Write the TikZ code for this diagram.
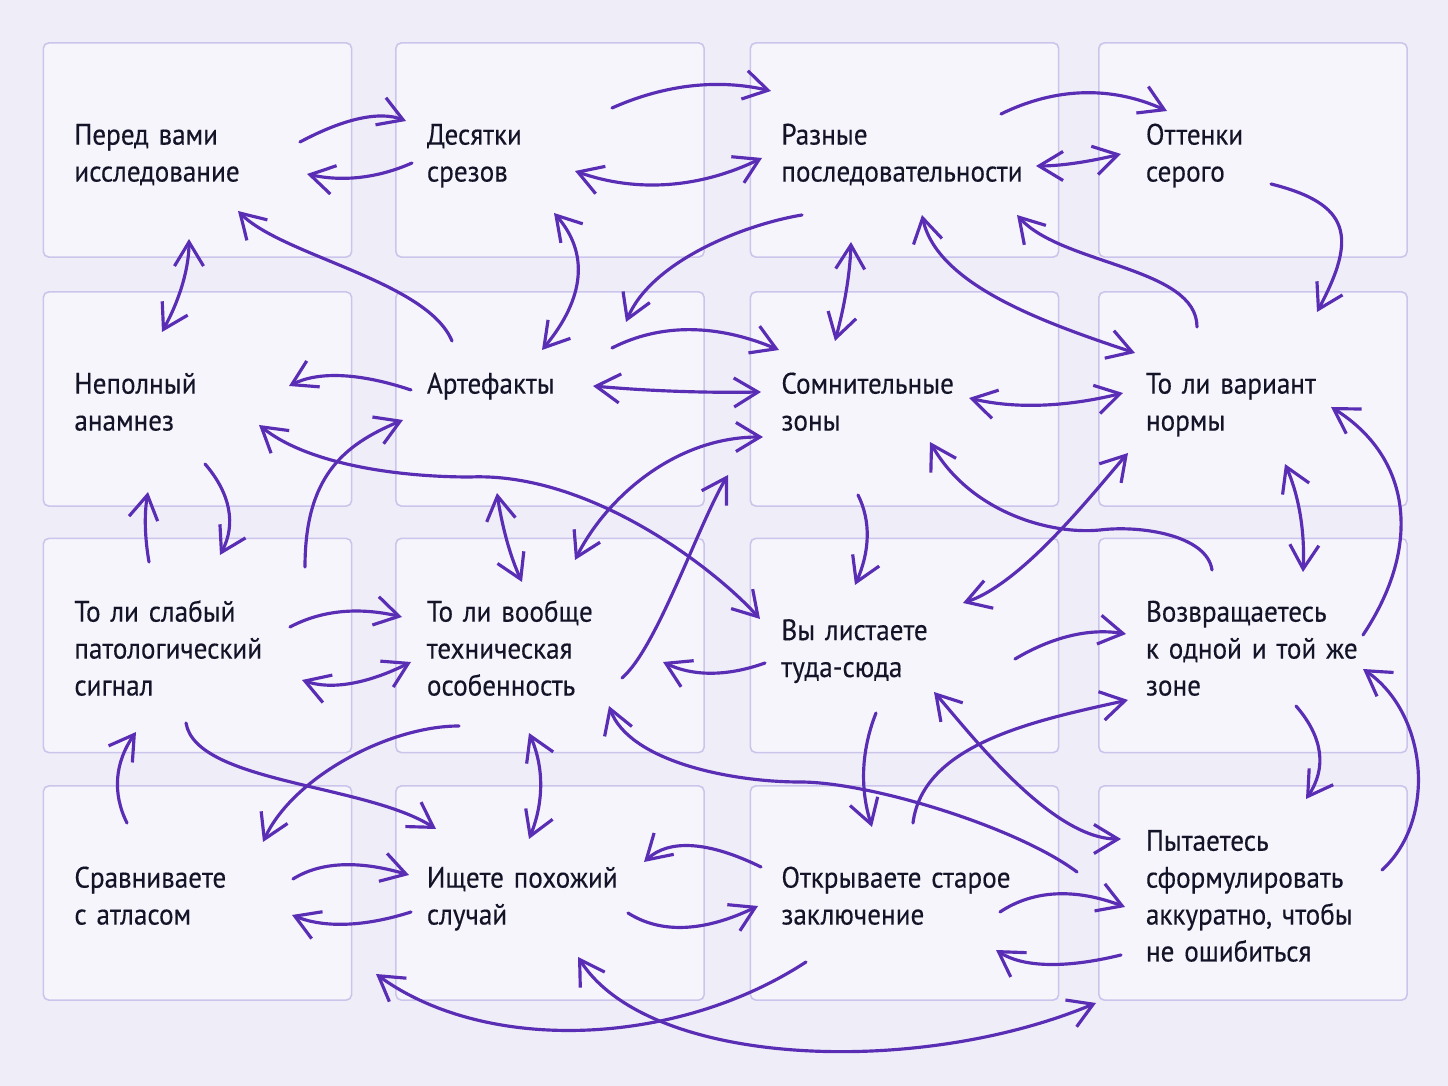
\documentclass[tikz,border=0pt]{standalone}
\usepackage{fontspec}
\setmainfont[FakeStretch=0.92,FakeBold=0.3]{PT Sans}
\usetikzlibrary{arrows.meta}
\definecolor{bg}{HTML}{EFEDF8}
\definecolor{card}{HTML}{F6F5FC}
\definecolor{cardline}{HTML}{CCC5EB}
\definecolor{ink}{HTML}{5A2EB4}
\definecolor{txt}{HTML}{141428}
\newcommand{\bx}[1]{\rule{0pt}{10.6pt}#1\strut}

\begin{document}
\begin{tikzpicture}[x=0.01cm,y=-0.01cm,
  >={Straight Barb[length=2.4mm,width=2.9mm]},
  box/.style={draw=cardline,fill=card,line width=0.45pt,rounded corners=1.5pt,
    minimum width=3.08cm,minimum height=2.14cm,inner xsep=0pt,text width=2.46cm,
    align=left,font={\fontsize{8.4}{10.5}\selectfont\spaceskip=2.2pt plus 1pt minus 0.5pt},text=txt},
  boxr/.style={box,text width=2.14cm},
  arr/.style={->,draw=ink,line width=0.9pt,line cap=round},
  darr/.style={arr,<->},
]
\fill[bg] (0,0) rectangle (1448,1086);
\useasboundingbox (0,0) rectangle (1448,1086);

\node[box] (b11) at (197.5,150) {\bx{Перед вами\\исследование}};
\node[box] (b12) at (550,150) {\bx{Десятки\\срезов}};
\node[box] (b13) at (904.5,150) {\bx{Разные\\последовательности}};
\node[boxr] (b14) at (1253,150) {\bx{Оттенки\\серого}};
\node[box] (b21) at (197.5,399) {\bx{Неполный\\анамнез}};
\node[box] (b22) at (550,399) {\bx{Артефакты\\\mbox{}}};
\node[box] (b23) at (904.5,399) {\bx{Сомнительные\\зоны}};
\node[boxr] (b24) at (1253,399) {\bx{То ли вариант\\нормы}};
\node[box] (b31) at (197.5,645.5) {\bx{То ли слабый\\патологический\\сигнал}};
\node[box] (b32) at (550,645.5) {\bx{То ли вообще\\техническая\\особенность}};
\node[box] (b33) at (904.5,645.5) {\bx{Вы листаете\\туда-сюда}};
\node[boxr] (b34) at (1253,645.5) {\bx{Возвращаетесь\\к одной и той же\\зоне}};
\node[box] (b41) at (197.5,893) {\bx{Сравниваете\\с атласом}};
\node[box] (b42) at (550,893) {\bx{Ищете похожий\\случай}};
\node[box] (b43) at (904.5,893) {\bx{Открываете старое\\заключение}};
\node[boxr] (b44) at (1253,893) {\bx{Пытаетесь\\сформулировать\\аккуратно, чтобы\\не ошибиться}};

\draw[arr] ([shift={(102.5,-8)}]b11.center) .. controls +(45,-24) and +(-26,-10) .. ([shift={(-144,-29)}]b12.center);
\draw[arr] ([shift={(-138,13)}]b12.center) .. controls +(-34,15) and +(36,8) .. ([shift={(109.5,24)}]b11.center);
\draw[darr] ([shift={(25,21)}]b12.center) .. controls +(62,22) and +(-62,30) .. ([shift={(-142.5,8)}]b13.center);
\draw[arr] ([shift={(62,-42)}]b12.center) .. controls +(54,-24) and +(-52,-12) .. ([shift={(-133.5,-59)}]b13.center);
\draw[arr] ([shift={(96.5,-36)}]b13.center) .. controls +(55,-27) and +(-55,-25) .. ([shift={(-86,-39)}]b14.center);
\draw[darr] ([shift={(-132,4)}]b14.center) .. controls +(-33,8) and +(24,0) .. ([shift={(131.5,16)}]b13.center);
\draw[arr] ([shift={(18,34)}]b14.center) .. controls +(80,20) and +(40,-75) .. ([shift={(64,-87)}]b24.center);
\draw[darr] ([shift={(-8.5,89)}]b11.center) .. controls +(0,29) and +(18,-33) .. ([shift={(-35.5,-67)}]b21.center);
\draw[arr] ([shift={(-98,-58)}]b22.center) .. controls +(-25,-60) and +(45,45) .. ([shift={(40.5,61)}]b11.center);
\draw[darr] ([shift={(4,63)}]b12.center) .. controls +(35,40) and +(43,-52) .. ([shift={(-8,-49)}]b22.center);
\draw[arr] ([shift={(-102.5,65)}]b13.center) .. controls +(-60,10) and +(25,-60) .. ([shift={(76,-77)}]b22.center);
\draw[darr] ([shift={(-53.5,92)}]b13.center) .. controls +(-1,33) and +(9,-33) .. ([shift={(-69.5,-58)}]b23.center);
\draw[darr] ([shift={(17.5,65)}]b13.center) .. controls +(15,70) and +(-90,-30) .. ([shift={(-118,-46)}]b24.center);
\draw[arr] ([shift={(-56,-72)}]b24.center) .. controls +(0,-60) and +(45,50) .. ([shift={(112.5,65)}]b13.center);
\draw[arr] ([shift={(62,-51)}]b22.center) .. controls +(49,-25) and +(-62,-26) .. ([shift={(-125.5,-49)}]b23.center);
\draw[darr] ([shift={(43,-13)}]b22.center) .. controls +(56,5) and +(-56,1) .. ([shift={(-143.5,-7)}]b23.center);
\draw[arr] ([shift={(-139,-9)}]b22.center) .. controls +(-51,-17) and +(30,-15) .. ([shift={(91.5,-13)}]b21.center);
\draw[darr] ([shift={(64.5,-1)}]b23.center) .. controls +(46,11) and +(-57,14) .. ([shift={(-130,-6)}]b24.center);
\draw[darr] ([shift={(61.5,26)}]b21.center) .. controls +(50,40) and +(-70,0) .. ([shift={(-80,78)}]b22.center)
  .. controls +(120,-5) and +(-45,-50) .. ([shift={(-144.5,-26.5)}]b33.center);
\draw[arr] ([shift={(7.5,65)}]b21.center) .. controls +(26,30) and +(16,-30) .. ([shift={(22.5,-90.5)}]b31.center);
\draw[arr] ([shift={(-48.5,-83.5)}]b31.center) .. controls +(-4,-23) and +(-4,23) .. ([shift={(-49.5,93)}]b21.center);
\draw[arr] ([shift={(107.5,-78.5)}]b31.center) .. controls +(0,-90) and +(-60,25) .. ([shift={(-147,21)}]b22.center);
\draw[darr] ([shift={(-53,94)}]b22.center) .. controls +(5,33) and +(-12,-26) .. ([shift={(-28,-63.5)}]b32.center);
\draw[darr] ([shift={(-141.5,38)}]b23.center) .. controls +(-90,0) and +(30,-60) .. ([shift={(25,-85.5)}]b32.center);
\draw[arr] ([shift={(72,32.5)}]b32.center) .. controls +(35,-30) and +(-30,50) .. ([shift={(-176.5,76)}]b23.center);
\draw[arr] ([shift={(-139.5,17.5)}]b33.center) .. controls +(-39,14) and +(29,14) .. ([shift={(113,16.5)}]b32.center);
\draw[arr] ([shift={(-46.5,96)}]b23.center) .. controls +(13,26) and +(15,-34) .. ([shift={(-49.5,-60.5)}]b33.center);
\draw[darr] ([shift={(-125,54)}]b24.center) .. controls +(-35,40) and +(60,-20) .. ([shift={(58.5,-42.5)}]b33.center);
\draw[arr] ([shift={(-41,-75.5)}]b34.center) .. controls +(-5,-35) and +(40,-5) .. ([shift={(-153,131)}]b24.center)
  .. controls +(-50,5) and +(40,70) .. ([shift={(25.5,43)}]b23.center);
\draw[darr] ([shift={(32,65)}]b24.center) .. controls +(14,32) and +(2,-40) .. ([shift={(50,-73.5)}]b34.center);
\draw[arr] ([shift={(110,-10.5)}]b34.center) .. controls +(60,-90) and +(80,50) .. ([shift={(78,8)}]b24.center);
\draw[arr] ([shift={(110.5,13.5)}]b33.center) .. controls +(37,-22) and +(-37,-6) .. ([shift={(-127,-11.5)}]b34.center);
\draw[arr] ([shift={(8.5,-70)}]b43.center) .. controls +(10,-80) and +(-90,20) .. ([shift={(-125,54.5)}]b34.center);
\draw[arr] ([shift={(-28.5,67.5)}]b33.center) .. controls +(-15,38) and +(-12,-38) .. ([shift={(-32.5,-66)}]b43.center);
\draw[darr] ([shift={(29.5,46.5)}]b33.center) .. controls +(35,40) and +(-70,0) .. ([shift={(-132,-54)}]b44.center);
\draw[arr] ([shift={(-176,-21)}]b44.center) .. controls +(-60,-45) and +(70,0) .. ([shift={(-104.5,136.5)}]b33.center)
  .. controls +(-70,0) and +(20,55) .. ([shift={(59,60.5)}]b32.center);
\draw[arr] ([shift={(43,60.5)}]b34.center) .. controls +(27,31) and +(21,-31) .. ([shift={(53,-94)}]b44.center);
\draw[arr] ([shift={(129,-23)}]b44.center) .. controls +(55,-50) and +(65,45) .. ([shift={(110,23.5)}]b34.center);
\draw[arr] ([shift={(95.5,19)}]b43.center) .. controls +(33,-22) and +(-50,-19) .. ([shift={(-128,14)}]b44.center);
\draw[arr] ([shift={(-132,62)}]b44.center) .. controls +(-57,14) and +(26,17) .. ([shift={(91.5,57)}]b43.center);
\draw[arr] ([shift={(78,20)}]b42.center) .. controls +(33,21) and +(-54,26) .. ([shift={(-146.5,13)}]b43.center);
\draw[arr] ([shift={(-143.5,-26)}]b43.center) .. controls +(-53,-26) and +(25,-23) .. ([shift={(94,-31)}]b42.center);
\draw[arr] ([shift={(95.5,-14)}]b41.center) .. controls +(27,-17) and +(-51,-15) .. ([shift={(-141,-18)}]b42.center);
\draw[arr] ([shift={(-139,19)}]b42.center) .. controls +(-47,15) and +(32,13) .. ([shift={(94.5,22)}]b41.center);
\draw[arr] ([shift={(-70.5,-70)}]b41.center) .. controls +(-15,-30) and +(-21,30) .. ([shift={(-61.5,86.5)}]b31.center);
\draw[arr] ([shift={(-11.5,77.5)}]b31.center) .. controls +(10,60) and +(-70,-45) .. ([shift={(-114,-64)}]b42.center);
\draw[arr] ([shift={(-91,80.5)}]b32.center) .. controls +(-70,0) and +(30,-65) .. ([shift={(65.5,-51)}]b41.center);
\draw[darr] ([shift={(-21,87.5)}]b32.center) .. controls +(15,34) and +(15,-37) .. ([shift={(-21,-54)}]b42.center);
\draw[arr] ([shift={(-98.5,69)}]b43.center) .. controls +(-130,85) and +(110,80) .. ([shift={(-174,81)}]b42.center);
\draw[darr] ([shift={(28,64)}]b42.center) .. controls +(70,110) and +(-180,75) .. ([shift={(-157,110)}]b44.center);
\draw[arr] ([shift={(92.5,-18.5)}]b31.center) .. controls +(32,-17) and +(-43,-10) .. ([shift={(-148,-28.5)}]b32.center);
\draw[darr] ([shift={(104.5,34.5)}]b31.center) .. controls +(29,10) and +(-44,22) .. ([shift={(-139,16.5)}]b32.center);
\end{tikzpicture}
\end{document}
